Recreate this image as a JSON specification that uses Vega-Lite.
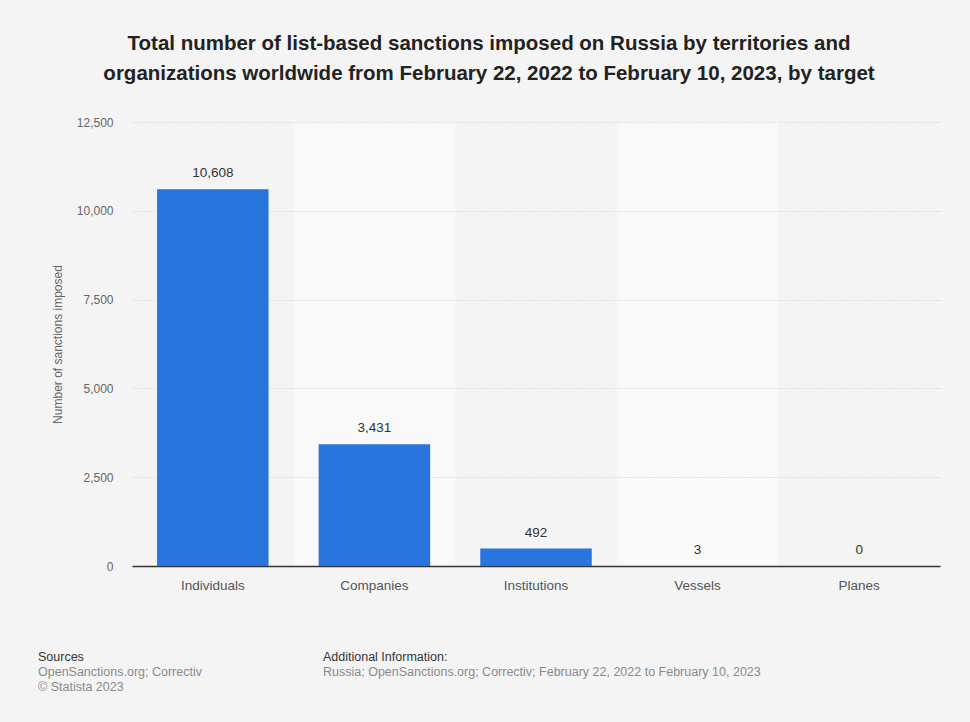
{
  "$schema": "https://vega.github.io/schema/vega-lite/v6.json",
  "background": "#f4f4f4",
  "padding": {"left": 38, "top": 33, "right": 30, "bottom": 30},
  "title": {
    "text": ["Total number of list-based sanctions imposed on Russia by territories and", "organizations worldwide from February 22, 2022 to February 10, 2023, by target"],
    "font": "Liberation Sans",
    "fontSize": 20.5,
    "fontWeight": "bold",
    "color": "#222222",
    "lineHeight": 30,
    "anchor": "middle",
    "offset": 32
  },
  "config": {
    "font": "Liberation Sans",
    "view": {"stroke": null}
  },
  "spacing": 57,
  "vconcat": [
    {
      "width": 808,
      "height": 444,
      "data": {
        "values": [
          {"target": "Individuals", "value": 10608},
          {"target": "Companies", "value": 3431},
          {"target": "Institutions", "value": 492},
          {"target": "Vessels", "value": 3},
          {"target": "Planes", "value": 0}
        ]
      },
      "encoding": {
        "x": {
          "field": "target",
          "type": "nominal",
          "sort": null,
          "scale": {"paddingInner": 0, "paddingOuter": 0},
          "axis": {
            "title": null,
            "labelAngle": 0,
            "labelFontSize": 13.5,
            "labelColor": "#555555",
            "labelPadding": 12,
            "ticks": false,
            "domainColor": "#333333",
            "domainWidth": 1.5,
            "grid": true,
            "bandPosition": 0.5,
            "gridWidth": 161.6,
            "gridDash": [],
            "gridOpacity": 1,
            "gridColor": {
              "condition": {"test": "datum.value === 'Companies' || datum.value === 'Vessels'", "value": "#f9f9f9"},
              "value": "#f4f4f4"
            }
          }
        },
        "y": {
          "field": "value",
          "type": "quantitative",
          "scale": {"domain": [0, 12500], "nice": false},
          "axis": {
            "values": [0, 2500, 5000, 7500, 10000, 12500],
            "format": ",.0f",
            "title": "Number of sanctions imposed",
            "titleFontSize": 12,
            "titleFontWeight": "normal",
            "titleColor": "#666666",
            "titlePadding": 12,
            "labelFontSize": 12,
            "labelColor": "#666666",
            "labelPadding": 19,
            "ticks": false,
            "domain": false,
            "grid": true,
            "gridColor": "#cccccc",
            "gridDash": [1, 2]
          }
        }
      },
      "layer": [
        {
          "mark": {"type": "bar", "color": "#2876dd", "width": {"band": 0.69}}
        },
        {
          "mark": {"type": "text", "baseline": "bottom", "dy": -9, "fontSize": 13.5, "color": "#333333"},
          "encoding": {
            "text": {"field": "value", "type": "quantitative", "format": ",.0f"}
          }
        }
      ]
    },
    {
      "width": 808,
      "height": 45,
      "data": {
        "values": [
          {"group": "Sources", "line": 0, "text": "Sources"},
          {"group": "Sources", "line": 1, "text": "OpenSanctions.org; Correctiv"},
          {"group": "Sources", "line": 2, "text": "© Statista 2023"},
          {"group": "Additional Information", "line": 0, "text": "Additional Information:"},
          {"group": "Additional Information", "line": 1, "text": "Russia; OpenSanctions.org; Correctiv; February 22, 2022 to February 10, 2023"}
        ]
      },
      "mark": {"type": "text", "align": "left", "baseline": "middle", "fontSize": 12.5},
      "encoding": {
        "x": {
          "field": "group",
          "type": "nominal",
          "sort": null,
          "scale": {"type": "point", "domain": ["Sources", "Additional Information"], "range": [-94, 191], "padding": 0},
          "axis": null
        },
        "y": {
          "field": "line",
          "type": "ordinal",
          "scale": {"domain": [0, 1, 2], "paddingInner": 0, "paddingOuter": 0},
          "axis": null
        },
        "text": {"field": "text", "type": "nominal"},
        "color": {
          "condition": {"test": "datum.line === 0", "value": "#333333"},
          "value": "#8a8a8a"
        }
      }
    }
  ]
}
